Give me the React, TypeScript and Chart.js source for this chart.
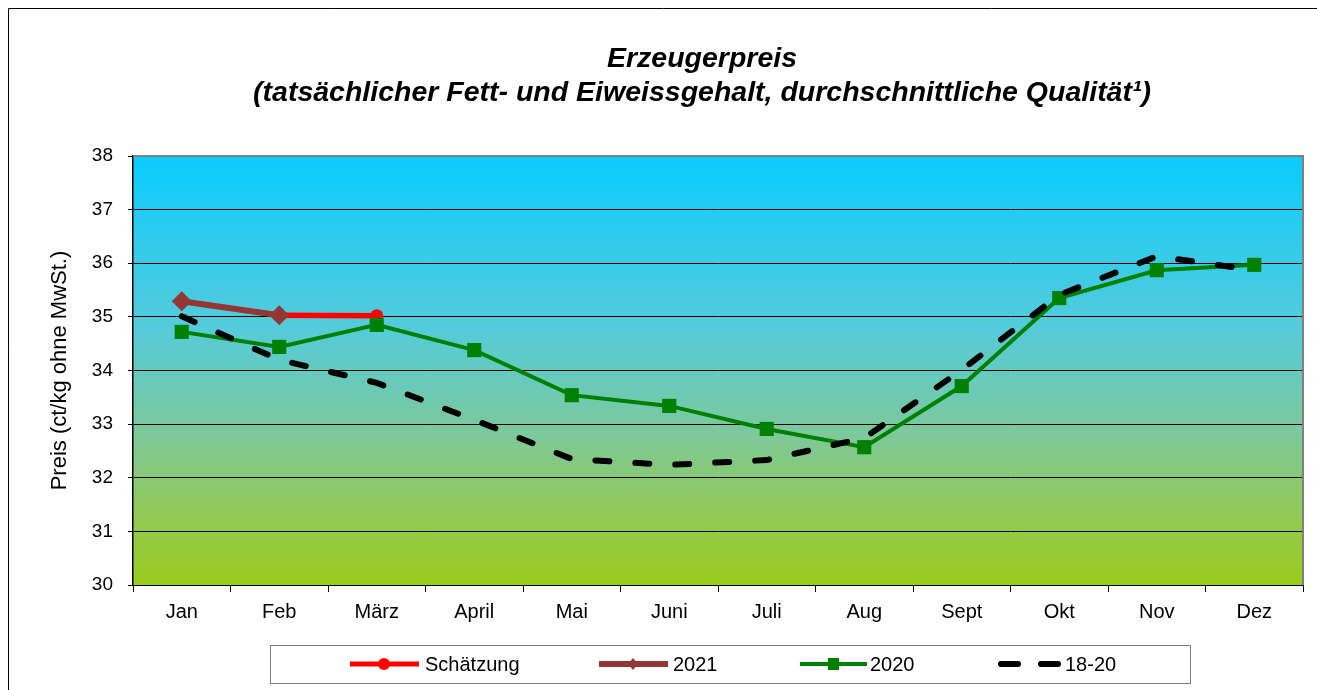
import React, { useEffect, useRef } from 'react';
import { Chart, registerables } from 'chart.js';

Chart.register(...registerables);

const months = ['Jan', 'Feb', 'März', 'April', 'Mai', 'Juni', 'Juli', 'Aug', 'Sept', 'Okt', 'Nov', 'Dez'];
const schaetzung = [null, 35.03, 35.02, null, null, null, null, null, null, null, null, null];
const jahr2021 = [35.29, 35.03, null, null, null, null, null, null, null, null, null, null];
const jahr2020 = [34.72, 34.44, 34.85, 34.38, 33.54, 33.34, 32.91, 32.57, 33.71, 35.35, 35.87, 35.97];
const schnitt1820 = [35.01, 34.2, 33.77, 33.08, 32.35, 32.24, 32.33, 32.74, 34.01, 35.41, 36.13, 35.87];
const yMin = 30;
const yMax = 38;
const titleLines = ['Erzeugerpreis', '(tatsächlicher Fett- und Eiweissgehalt, durchschnittliche Qualität¹)'];
const yTitle = 'Preis (ct/kg ohne MwSt.)';
const legendLabels = ['Schätzung', '2021', '2020', '18-20'];

const FONT = '"Liberation Sans", Arial, sans-serif';

export default function App() {
  const ref = useRef<HTMLCanvasElement>(null);

  useEffect(() => {
    const canvas = ref.current;
    if (!canvas) return;

    const bgPlugin = {
      id: 'bgPlugin',
      beforeDraw(chart: any) {
        const { ctx, chartArea: a } = chart;
        ctx.save();
        ctx.fillStyle = '#ffffff';
        ctx.fillRect(0, 0, chart.width, chart.height);
        ctx.strokeStyle = '#000';
        ctx.lineWidth = 1;
        ctx.beginPath();
        ctx.moveTo(8.5, 720);
        ctx.lineTo(8.5, 8.5);
        ctx.lineTo(1340, 8.5);
        ctx.stroke();
        const g = ctx.createLinearGradient(0, a.top, 0, a.bottom);
        g.addColorStop(0, '#0ACCFF');
        g.addColorStop(0.4, '#55CBDA');
        g.addColorStop(0.65, '#7DC99A');
        g.addColorStop(0.85, '#93CA50');
        g.addColorStop(1, '#9ACB1C');
        ctx.fillStyle = g;
        ctx.fillRect(a.left, a.top, a.right - a.left, a.bottom - a.top);
        ctx.restore();
      },
      beforeDatasetsDraw(chart: any) {
        const { ctx, chartArea: a } = chart;
        ctx.save();
        ctx.strokeStyle = '#808080';
        ctx.lineWidth = 2;
        ctx.beginPath();
        ctx.moveTo(a.left, a.top);
        ctx.lineTo(a.right, a.top);
        ctx.lineTo(a.right, a.bottom);
        ctx.stroke();
        ctx.restore();
      },
      afterDraw(chart: any) {
        const { ctx } = chart;
        ctx.save();
        // title
        ctx.fillStyle = '#000';
        ctx.textAlign = 'center';
        ctx.textBaseline = 'alphabetic';
        ctx.font = `italic bold 28.5px ${FONT}`;
        ctx.fillText(titleLines[0], 702, 67);
        ctx.fillText(titleLines[1], 702, 101);

        // legend
        const ly = 664;
        ctx.strokeStyle = '#808080';
        ctx.lineWidth = 1;
        ctx.strokeRect(270.5, 645.5, 920, 38);
        ctx.font = `20px ${FONT}`;
        ctx.textAlign = 'left';
        ctx.textBaseline = 'middle';
        const line = (x1: number, x2: number, color: string, w: number) => {
          ctx.strokeStyle = color;
          ctx.lineWidth = w;
          ctx.lineCap = 'butt';
          ctx.beginPath();
          ctx.moveTo(x1, ly);
          ctx.lineTo(x2, ly);
          ctx.stroke();
        };
        // Schätzung
        line(350, 419, '#ff0000', 5);
        ctx.fillStyle = '#ff0000';
        ctx.beginPath();
        ctx.arc(384, ly, 6, 0, Math.PI * 2);
        ctx.fill();
        ctx.fillStyle = '#000';
        ctx.fillText(legendLabels[0], 425, ly + 1);
        // 2021
        line(599, 668, '#943734', 6);
        ctx.fillStyle = '#943734';
        ctx.beginPath();
        ctx.moveTo(633, ly - 6);
        ctx.lineTo(638, ly);
        ctx.lineTo(633, ly + 6);
        ctx.lineTo(628, ly);
        ctx.closePath();
        ctx.fill();
        ctx.fillStyle = '#000';
        ctx.fillText(legendLabels[1], 673, ly + 1);
        // 2020
        line(800, 867, '#008000', 4);
        ctx.fillStyle = '#008000';
        ctx.fillRect(828, ly - 6, 11, 12);
        ctx.fillStyle = '#000';
        ctx.fillText(legendLabels[2], 870, ly + 1);
        // 18-20
        ctx.strokeStyle = '#000';
        ctx.lineWidth = 6;
        ctx.lineCap = 'round';
        ctx.beginPath();
        ctx.moveTo(1001, ly);
        ctx.lineTo(1018, ly);
        ctx.moveTo(1041, ly);
        ctx.lineTo(1058, ly);
        ctx.stroke();
        ctx.fillStyle = '#000';
        ctx.fillText(legendLabels[3], 1065, ly + 1);
        ctx.restore();
      },
    };

    const chart = new Chart(canvas, {
      type: 'line',
      data: {
        labels: months,
        datasets: [
          {
            label: legendLabels[3],
            data: schnitt1820,
            borderColor: '#000000',
            backgroundColor: '#000000',
            borderWidth: 6,
            borderDash: [14, 26],
            borderCapStyle: 'round',
            pointRadius: 0,
            tension: 0,
            clip: false,
          },
          {
            label: legendLabels[1],
            data: jahr2021,
            borderColor: '#943734',
            backgroundColor: '#943734',
            pointBackgroundColor: '#943734',
            pointBorderColor: '#943734',
            borderWidth: 6,
            pointStyle: 'rectRot',
            pointRadius: 10,
            pointBorderWidth: 0,
            tension: 0,
            clip: false,
          },
          {
            label: legendLabels[2],
            data: jahr2020,
            borderColor: '#008000',
            backgroundColor: '#008000',
            pointBackgroundColor: '#008000',
            pointBorderColor: '#008000',
            borderWidth: 4,
            pointStyle: 'rect',
            pointRadius: 10,
            pointBorderWidth: 0,
            tension: 0,
            clip: false,
          },
          {
            label: legendLabels[0],
            data: schaetzung,
            borderColor: '#ff0000',
            backgroundColor: '#ff0000',
            pointBackgroundColor: '#ff0000',
            pointBorderColor: '#ff0000',
            borderWidth: 5.5,
            pointStyle: 'circle',
            pointRadius: 6.5,
            pointBorderWidth: 0,
            tension: 0,
            clip: false,
          },
        ],
      },
      options: {
        responsive: false,
        devicePixelRatio: 1,
        animation: false,
        layout: { autoPadding: false, padding: { left: 0, top: 156, right: 14, bottom: 0 } },
        plugins: {
          legend: { display: false },
          tooltip: { enabled: false },
          title: { display: false },
        },
        scales: {
          x: {
            type: 'category',
            offset: true,
            grid: { offset: true, drawOnChartArea: false, drawTicks: true, tickLength: 7, color: '#000' },
            border: { color: '#000', width: 1 },
            ticks: { color: '#000', font: { family: FONT, size: 20 }, padding: 8, maxRotation: 0, autoSkip: false },
            afterFit(scale: any) {
              scale.height = 105;
            },
          },
          y: {
            min: yMin,
            max: yMax,
            grid: { color: '#000', lineWidth: 1, drawTicks: true, tickLength: 5 },
            border: { color: '#000', width: 1.5 },
            ticks: { stepSize: 1, color: '#000', font: { family: FONT, size: 19 }, padding: 15 },
            title: {
              display: true,
              text: yTitle,
              color: '#000',
              font: { family: FONT, size: 22 },
              padding: { top: 47, bottom: 0 },
            },
            afterFit(scale: any) {
              scale.width = 133;
            },
          },
        },
      },
      plugins: [bgPlugin],
    } as any);

    return () => chart.destroy();
  }, []);

  return (
    <div style={{ position: 'absolute', left: 0, top: 0, width: 1317, height: 690, background: '#fff' }}>
      <canvas ref={ref} width={1317} height={690} style={{ display: 'block' }} />
    </div>
  );
}
